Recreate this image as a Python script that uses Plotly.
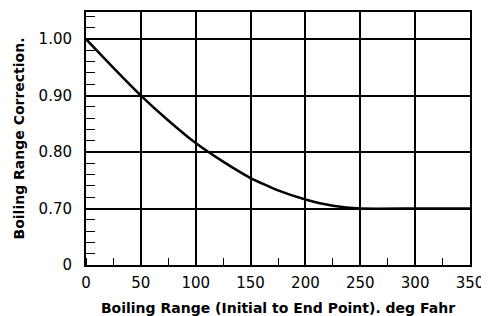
import plotly.graph_objects as go

boiling_range = [0, 25, 50, 75, 100, 125, 150, 175, 200, 225, 250, 300, 350]
correction = [1.00, 0.949, 0.900, 0.856, 0.816, 0.783, 0.754, 0.732, 0.716, 0.705, 0.700, 0.700, 0.700]

y_tickvals = [0.6, 0.7, 0.8, 0.9, 1.0]
y_ticktext = ["0", "0.70", "0.80", "0.90", "1.00"]
x_tickvals = [0, 50, 100, 150, 200, 250, 300, 350]

fig = go.Figure()
fig.add_trace(go.Scatter(
    x=boiling_range, y=correction, mode="lines",
    line=dict(color="black", width=2.5, shape="spline", smoothing=0.4),
    showlegend=False, hoverinfo="skip",
))

# page body has an 8px default margin, so the figure is offset by 8px
fig.update_layout(
    width=481, height=308,
    margin=dict(l=78, r=19, t=4, b=51),
    paper_bgcolor="white", plot_bgcolor="white",
    font=dict(family="DejaVu Sans", size=15, color="black"),
)
fig.update_xaxes(
    range=[0, 350], tickvals=x_tickvals, automargin=False,
    showgrid=True, gridcolor="black", gridwidth=2,
    showline=True, linecolor="black", linewidth=2, mirror=True,
    ticks="outside", ticklen=3, tickcolor="rgba(0,0,0,0)",
    minor=dict(dtick=25, tick0=0, ticks="inside", ticklen=7, tickcolor="black", tickwidth=1, showgrid=False),
    zeroline=False,
    title=dict(text="<b>Boiling Range (Initial to End Point). deg Fahr</b>",
               font=dict(family="DejaVu Sans", size=14), standoff=13),
)
fig.update_yaxes(
    range=[0.6, 1.048], tickvals=y_tickvals, ticktext=y_ticktext, automargin=False,
    showgrid=True, gridcolor="black", gridwidth=1.5,
    showline=True, linecolor="black", linewidth=2, mirror=True,
    ticks="outside", ticklen=9, tickcolor="rgba(0,0,0,0)",
    minor=dict(dtick=0.02, tick0=0.6, ticks="inside", ticklen=9, tickcolor="black", tickwidth=1, showgrid=False),
    zeroline=False,
    title=dict(text="<b>Boiling Range Correction.</b>",
               font=dict(family="DejaVu Sans", size=14), standoff=11),
)

fig.write_html("out.html")
